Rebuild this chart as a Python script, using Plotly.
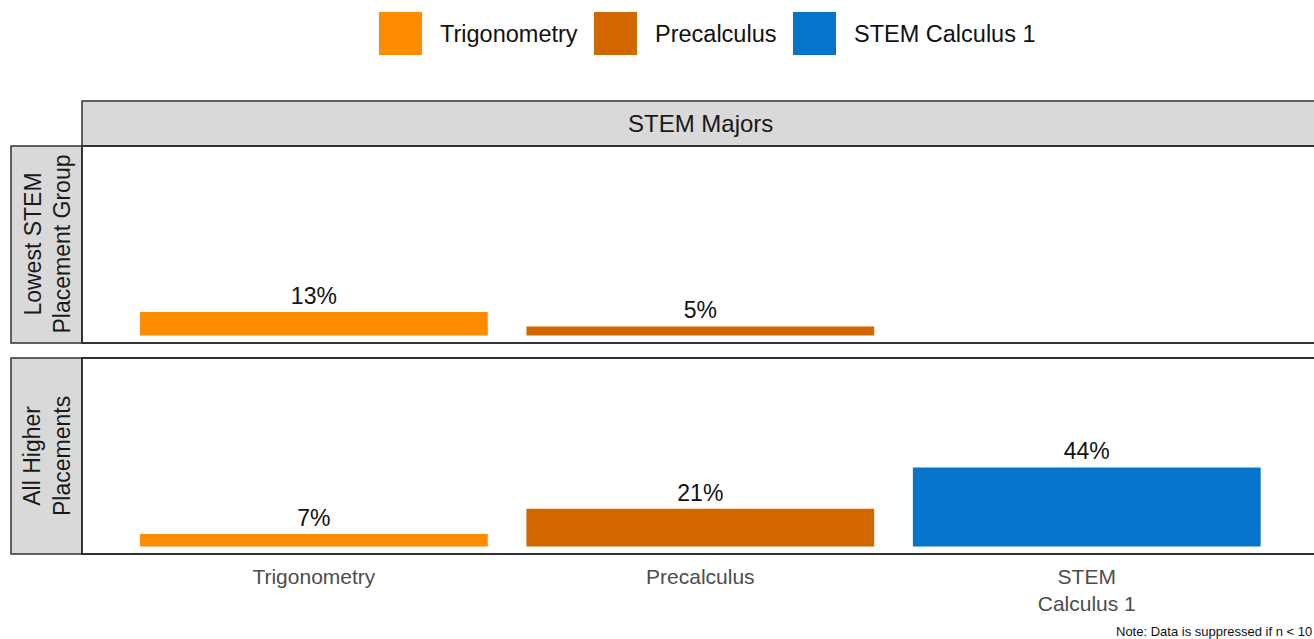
import plotly.graph_objects as go

# ---- data ----
categories = ["Trigonometry", "Precalculus", "STEM Calculus 1"]
tick_labels = ["Trigonometry", "Precalculus", "STEM<br>Calculus 1"]
colors = ["#FF8C00", "#D26700", "#0774CC"]
lowest_values = [13, 5, None]      # STEM Calculus 1 suppressed
higher_values = [7, 21, 44]
row_labels = ["Lowest STEM<br>Placement Group", "All Higher<br>Placements"]
col_label = "STEM Majors"
note = "Note: Data is suppressed if n < 10"

W, H = 1314, 639
FONT = "Arial, Liberation Sans, sans-serif"


def px(x):
    return x / W


def py(y):
    return 1 - y / H


fig = go.Figure()

panels = [(lowest_values, "x", "y"), (higher_values, "x2", "y2")]
for vals, xa, ya in panels:
    xs = [i for i, v in enumerate(vals) if v is not None]
    ys = [v for v in vals if v is not None]
    cs = [colors[i] for i in xs]
    fig.add_trace(go.Bar(
        x=xs, y=ys, marker=dict(color=cs, line=dict(width=0)), width=0.9,
        text=[f"{v}%" for v in ys], textposition="outside",
        textfont=dict(size=23, color="#111111", family=FONT),
        cliponaxis=False, showlegend=False, xaxis=xa, yaxis=ya,
        hovertemplate="%{y}%<extra></extra>",
    ))

xrange = [-0.6, 2.588]
yrange = [-4.2, 105]
xdom = [px(82), 1.0]

fig.update_layout(
    width=W, height=H,
    margin=dict(l=0, r=0, t=0, b=0),
    paper_bgcolor="white", plot_bgcolor="white",
    font=dict(family=FONT),
    xaxis=dict(domain=xdom, range=xrange, anchor="y", showgrid=False, zeroline=False,
               showticklabels=False, showline=False, fixedrange=True),
    yaxis=dict(domain=[py(343), py(146)], range=yrange, anchor="x", showgrid=False,
               zeroline=False, showticklabels=False, showline=False),
    xaxis2=dict(domain=xdom, range=xrange, anchor="y2", showgrid=False, zeroline=False,
                tickmode="array", tickvals=list(range(len(categories))), ticktext=tick_labels,
                tickfont=dict(size=21, color="#4D4D4D", family=FONT), ticks="",
                ticklabelstandoff=8, showline=False),
    yaxis2=dict(domain=[py(554), py(358)], range=yrange, anchor="x2", showgrid=False,
                zeroline=False, showticklabels=False, showline=False),
    bargap=0.1,
)

shapes = []
annotations = []

# panel borders
for xd, yd in [("x domain", "y domain"), ("x2 domain", "y2 domain")]:
    shapes.append(dict(type="rect", xref=xd, yref=yd, x0=0, x1=1.01, y0=0, y1=1,
                       line=dict(color="#333333", width=2), fillcolor="rgba(0,0,0,0)", layer="above"))

# top strip
shapes.append(dict(type="rect", xref="paper", yref="paper", x0=px(82), x1=px(1322),
                   y0=py(146), y1=py(101), fillcolor="#D9D9D9",
                   line=dict(color="#333333", width=1.5), layer="below"))
annotations.append(dict(text=col_label, xref="paper", yref="paper", x=px(82 + (1319 - 82) / 2),
                        y=py(123.5), showarrow=False, font=dict(size=24, color="#1A1A1A", family=FONT),
                        xanchor="center", yanchor="middle"))

# left strips
for label, (top, bot) in zip(row_labels, [(146, 343), (358, 554)]):
    shapes.append(dict(type="rect", xref="paper", yref="paper", x0=px(11), x1=px(82),
                       y0=py(bot), y1=py(top), fillcolor="#D9D9D9",
                       line=dict(color="#333333", width=1.5), layer="below"))
    annotations.append(dict(text=label, xref="paper", yref="paper", x=px(47), y=py((top + bot) / 2),
                            showarrow=False, textangle=-90, font=dict(size=23, color="#1A1A1A", family=FONT),
                            xanchor="center", yanchor="middle"))

# legend (manual keys)
key_left = [379, 594, 793]
for name, col, kx in zip(categories, colors, key_left):
    shapes.append(dict(type="rect", xref="paper", yref="paper", x0=px(kx), x1=px(kx + 43),
                       y0=py(55), y1=py(12), fillcolor=col, line=dict(width=0)))
    annotations.append(dict(text=name, xref="paper", yref="paper", x=px(kx + 59), y=py(34),
                            showarrow=False, xanchor="left", yanchor="middle",
                            font=dict(size=23.5, color="#111111", family=FONT)))

# note
annotations.append(dict(text=note, xref="paper", yref="paper", x=1.0, y=py(631),
                        showarrow=False, xanchor="right", yanchor="middle",
                        font=dict(size=13, color="#111111", family=FONT)))

fig.update_layout(shapes=shapes, annotations=annotations)

fig.write_html(
    "out.html",
    config={"displayModeBar": False},
    post_script="document.body.style.margin='0';document.body.style.overflow='hidden';",
)
